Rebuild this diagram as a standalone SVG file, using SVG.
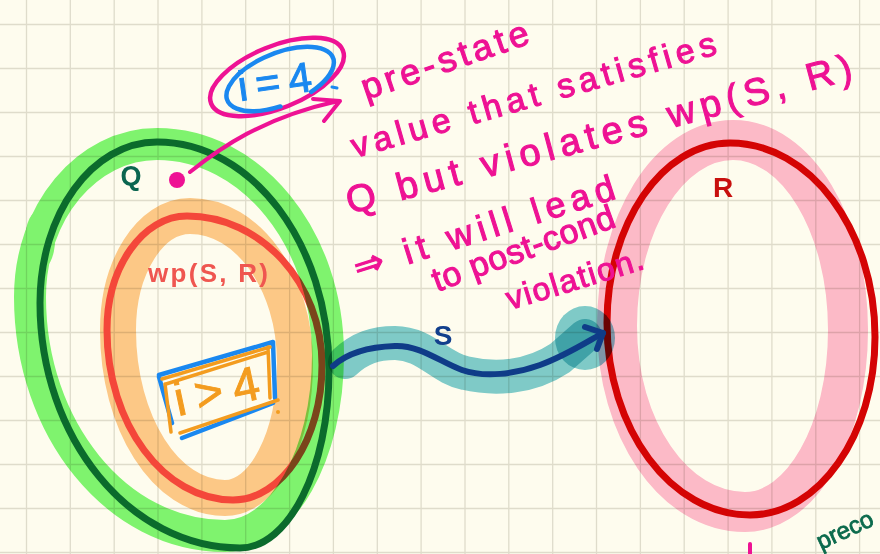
<svg xmlns="http://www.w3.org/2000/svg" width="880" height="554" viewBox="0 0 880 554">
<style>
.hl{mix-blend-mode:multiply}
.ln{fill:none;stroke-linecap:round;stroke-linejoin:round}
.pk{fill:#ee1294;stroke:#ee1294;stroke-width:1.1;font-family:"Liberation Sans","DejaVu Sans",sans-serif}
.lbl{font-family:"Liberation Sans","DejaVu Sans",sans-serif;font-weight:bold}
</style>
<rect width="880" height="554" fill="#fefcee"/>
<path d="M26.5 0V554M70.3 0V554M114.2 0V554M158 0V554M201.9 0V554M245.7 0V554M289.6 0V554M333.4 0V554M377.3 0V554M421.1 0V554M465 0V554M508.8 0V554M552.7 0V554M596.5 0V554M640.4 0V554M684.2 0V554M728.1 0V554M771.9 0V554M815.8 0V554M859.6 0V554M0 24.5H880M0 68.5H880M0 112.5H880M0 156.5H880M0 200.5H880M0 244.5H880M0 288.5H880M0 332.5H880M0 376.5H880M0 420.5H880M0 464.5H880M0 508.5H880M0 552.5H880" stroke="#dfdccb" stroke-width="1.3" fill="none"/>

<g id="wp">
  <path class="ln hl" d="M190,216 C248,216 295,282 295,363 C295,438 264,498 225,498 C166,498 118,423 118,330 C118,267 150,216 190,216Z" stroke="#fdcb90" stroke-width="36"/>
  <path class="ln" d="M187,216 C261,216 322,283 322,365 C322,439 282,500 233,500 C164,500 107,424 107,330 C107,267 143,216 187,216Z" stroke="#f4473a" stroke-width="7"/>
  <text class="lbl" x="148" y="282" font-size="26" fill="#ef5650" textLength="120">wp(S, R)</text>
  <g id="box">
    <path class="ln" d="M159,375 L273,342 L275,398 M273,403 L182,438 M159,377 L172,423" stroke="#1a88f0" stroke-width="4.5"/>
    <path class="ln" d="M162,379 L270,347 M166,384 L268,352 M268,347 L270,398 M278,400 L180,433 M165,384 L171,432" stroke="#f39c1f" stroke-width="3.5"/>
    <circle cx="278" cy="412" r="2" fill="#f39c1f"/>
    <text transform="translate(178,416) rotate(-12)" font-family="Liberation Sans, sans-serif" font-size="48" fill="#f39c1f" stroke="#f39c1f" stroke-width="1" textLength="86">i&gt;4</text>
  </g>
</g>

<g id="Q">
  <g class="hl">
    <path class="ln" d="M157,144 C251,144 328,238 328,355 C328,455 282,536 225,536 C117,536 30,429 30,297 C30,212 87,144 157,144Z" stroke="#80f676" stroke-width="32"/>
    <ellipse cx="40" cy="240" rx="15" ry="30" fill="#80f676"/>
  </g>
  <path class="ln" d="M157,142 C252,142 329,244 329,370 C329,468 289,548 240,548 C130,548 40,438 40,303 C40,214 92,142 157,142Z" stroke="#0b6b2c" stroke-width="7"/>
  <text class="lbl" x="131" y="185" font-size="27" fill="#0b6650" text-anchor="middle">Q</text>
</g>

<g id="R">
  <path class="ln hl" d="M733,140 C797,140 848,225 848,330 C848,431 802,512 745,512 C674,512 617,429 617,326 C617,223 669,140 733,140Z" stroke="#fdbcd5" stroke-width="40"/>
  <path class="ln" d="M730,143 C810,143 875,230 875,337 C875,435 819,515 750,515 C671,515 607,429 607,323 C607,224 662,143 730,143Z" stroke="#d40404" stroke-width="7"/>
  <text class="lbl" x="723" y="197" font-size="28" fill="#c8100e" text-anchor="middle">R</text>
</g>

<g id="connectors">
  <g id="S-edge">
    <path class="ln hl" d="M345,362 C360,348 375,343 395,343 C425,343 440,368 465,373 C495,380 530,378 560,358 L585,336" stroke="#7fcdd6" stroke-width="34"/>
    <ellipse class="hl" cx="585" cy="338" rx="30" ry="32" fill="#7fcdd6"/>
    <path class="ln" d="M333,366 C345,355 365,347 395,346 C420,345 440,362 462,370 C485,378 515,374 540,365 C565,356 585,343 603,333" stroke="#0f3c88" stroke-width="6"/>
    <path class="ln" d="M585,327 L603,333 L597,349" stroke="#0f3c88" stroke-width="6"/>
    <text class="lbl" x="443" y="345" font-size="28" fill="#123f8c" text-anchor="middle">S</text>
  </g>
  <g id="note-edge">
    <path class="ln" d="M190,172 C220,148 262,118 338,101 M313,99 L340,101 L324,121" stroke="#ee1294" stroke-width="4"/>
  </g>
</g>

<g id="note">
  <circle cx="177" cy="180" r="8" fill="#ee1294"/>
  <ellipse class="ln" cx="277" cy="77" rx="71" ry="31" transform="rotate(-22 277 77)" stroke="#ee1294" stroke-width="4.5"/>
  <path class="ln" d="M270.1,104.6 A57,26 0 1 1 304.1,102.6" transform="rotate(-22 280 79)" stroke="#1a88f0" stroke-width="4.5"/>
  <text transform="translate(240,101) rotate(-8)" font-family="Liberation Sans, sans-serif" font-size="42" fill="#1a88f0" stroke="#1a88f0" stroke-width="1" textLength="74">i=4</text>
  <path class="ln" d="M332,87 L337,88" stroke="#1a88f0" stroke-width="3"/>
  <text class="pk" transform="translate(366,100) rotate(-19)" font-size="36" textLength="175">pre-state</text>
  <text class="pk" transform="translate(355,158) rotate(-16)" font-size="34" textLength="378">value that satisfies</text>
  <text class="pk" transform="translate(350,214) rotate(-15)" font-size="38" textLength="522">Q but violates wp(S, R)</text>
  <text class="pk" transform="translate(358,280) rotate(-17.5)" font-size="36" textLength="272">⇒ it will lead</text>
  <text class="pk" transform="translate(437,292) rotate(-20)" font-size="34" textLength="192">to post-cond</text>
  <text class="pk" transform="translate(510,310) rotate(-17)" font-size="32" textLength="142">violation.</text>
</g>

<text transform="translate(821,550) rotate(-25)" font-family="Liberation Sans, sans-serif" font-size="24" fill="#0b6a4c" stroke="#0b6a4c" stroke-width="0.8">preco</text>
<path class="ln" d="M750,544 L750,556" stroke="#ee1294" stroke-width="4"/>
</svg>
